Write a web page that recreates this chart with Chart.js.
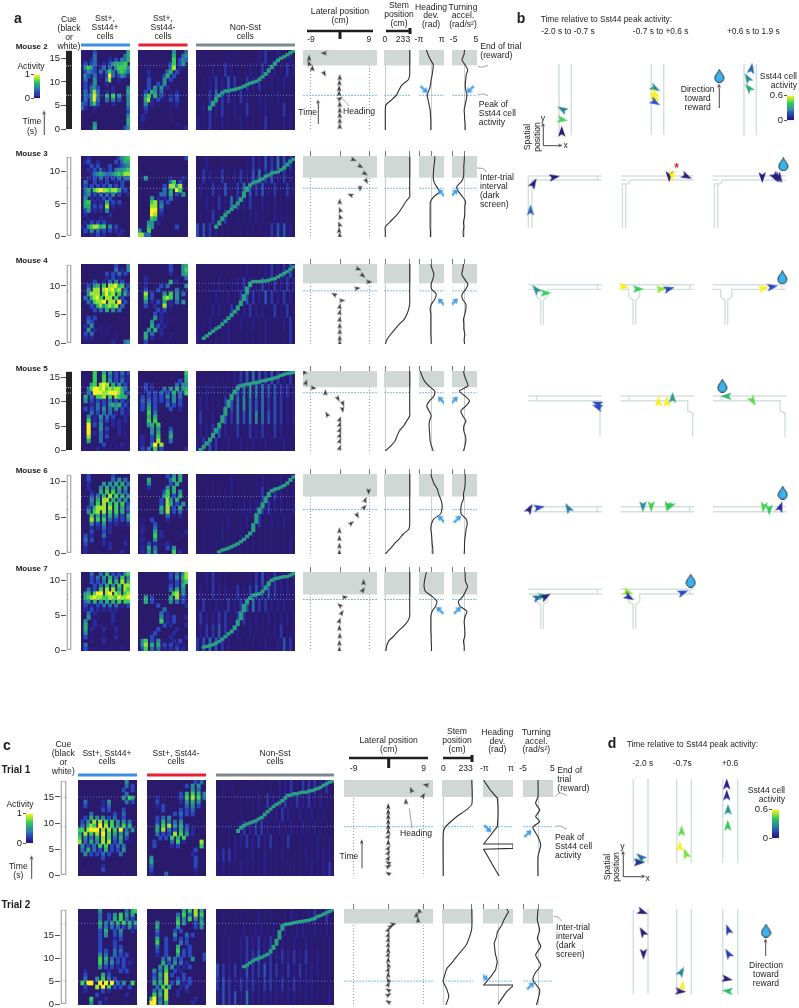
<!DOCTYPE html>
<html><head><meta charset="utf-8">
<script src="https://cdn.jsdelivr.net/npm/chart.js@4"></script>
<style>
html,body{margin:0;padding:0;background:#fff}
#root{position:relative;width:799px;height:1008px;overflow:hidden;font-family:"Liberation Sans",Arial,sans-serif;color:#1c1c1c}
canvas{position:absolute;display:block}
.t{position:absolute;white-space:nowrap;line-height:1;z-index:5}
</style></head><body><div id="root"></div>
<script>
/* ---------- activity grids (digit = activity 0-9, top row = latest time) ---------- */
const m2Plus=["....3..........6","....4....1....46","...24....2.3.546",".3.34..2.356667.",".5763.24.4.57775",".3543.4.474.6764",".53.4.2.394.3542",".4..5.1.481.2.1.",".3.25...2...1...",".3.453....2....5",".4.484..2.2....6",".435952.6.7.5..5",".4.594..4.5.3..5","43.473....2....5","42..2..........4","....1..........3","...............5","...............6","....5..........6","....6.........35"];
const m2Minus=["...........5...4","...........6..45","...........7.354","..........37.35.","...1......48.2..","...2.....46.3...","...2....36.3....","...3....5.3.....","...3..3.5.1.....","...3.5.5.2......","..3.65.4..1.2...","..57.6.3..2.3...","..682.3.1.3.3...","..5.2.1...1.2...","..3.1.....1.1...","..2.......1.....",".2........1.....",".2........1.....",".1..........1...",".1............12"];
const m3Plus=["..2.........3567",".23..2.....3.466","...3.3...3..2345","..2.3.42.3.45567","...2456544567688","..2.3.4.3.3.4.44",".4..3.2.3..2.3..",".3.3.3.3.4.3.3..",".46.789887886.3.",".45.3.4.4.5.3..2",".5.2.2.3.3.1....",".67.2.2.6.3.3...",".66.3.3.8.2.1...",".35.2.2.5.1.....",".2.1.....2......","..1.1.2.1.......",".2.3.3.3.1......","2.578867.5.3....",".3.5.4.3.3.2.2..","...2.3.2.1..2..."];
const m3Minus=["...............3","................","................","................","................","..5.......2...2.","..........47.3..","........3.8858..","........4.6.97..",".......44.6.3.5.","....5.2.2.4.1...","....78.4.3......","....88.5.1......","....99.3........","....98.2........","....76.1........","...55.2.........","...65.......3...","5..7............","8844............"];
const m4Plus=["...........3...5","...........4.2.5","........3.3.4.3.","........2.3.2.1.","....3..2.4.5.3..","..3.56.7.88967.3","..5.88.898978.4.","..5888.7978.7.63",".4.6897.88.7.3..","..4.7889.88.9.3.","...3.6857878.4..","....3.4.6.5.4...","................","..3.3...........","..43............",".2.5..1..1......","..5.2.1.1.......",".3.4..1.1..1....",".2.2.......1....","..1.......2...45"];
const m4Minus=["..........3...56","..........3...57","..........2...56","..2.........1..4","..2.......6.2...","..2....3.4.....5","..3...3.....4...","..8.3...5.7.5.4.","..7.3...787.5...","..5.2.3.6.2.4.5.","..3..2..8.2.....","......3.3.1.....",".....3.2........",".....5.2.1......","....5..2.1......","....6.3.2.......","...5.6.2........","..6.4..2..1.....","..6.2..1..1.....","..3......1......"];
const m5Plus=["....7..6.5.3.4.3","....7..7.4.3.3.2","....7..7.5.3.4.2","...67.898.6.5.3.","..4799897878864.","..4.9998899986.3",".6.4.778.7.8766.",".5.3.3.3.4.3.3.2","...2.4.3.5656.3.",".3.3.4.5.4.5.3.2","...4.3.4.4.2.3.2","..5.2.5.4.3...2.","..7.2.4.3.2.2.2.","..9.3.5.1.2.2.1.","..9...5.3...2.1.","..9.2.4.2...2.1.","..8...4.3.1.1.1.","..6.1.4.1.1...1.","...1.1.3.1.1.2.1",".1.1.2.1.1.1.1.1"];
const m5Minus=["...............7","...............6",".............3.6","..3.2.......4.55","..3.2...4.5.6.56","...3.3.4.3.6.4.7",".3.3.3.3.5.5.4..",".4.4.3.3.3.5.3..",".3.5.3.1.4.3.3..",".3.6.3....3..2..","...7.4..........","...6.6..........","...7.7..........","...56.7.........","....5.5...3.....","....5.6...5.....",".2..3.7...6.....",".2..3.8...4.....",".2..49.8........",".3.4.7.3.......2"];
const m6Plus=["..3.......3.....","..3.......4.5.4.","..2....5.5.6.6.4","..2...5.6.5.6.5.","...2..6.7.7.5.4.","...3.4.6.8.7.6.5","...5.6.88.6.5.5.","...4.7.8.7.7.7.3","..3.6888.8.7.6.4","..5.78.8.7.7.6.3","...7.6.5.6.5.3.6","...8.7.7.4.3.3.5","...5.3.5.2.2.1.2","...2.2.4.2......","...3...3.2......",".3.2...4.1....1.",".4.3...2......1.",".3.....2.2....2.",".2.......2....1.",".2...1.......2.."];
const m6Minus=[".........3.5.6..","...6......46.6..","...5......3.6...","...2.....5.6....","........37.6.5..","........57.3.6..",".......3.85.6...",".......3.86.3.5.",".......6.8.3.6..",".......5.8.3.4..",".........4.1.2..",".1..3....2......",".1...3..........",".2...4..........",".2...6.2.......2",".1...7.2......1.",".2...5..........",".1.3.2.1.2......",".2.6.4...3.5....",".2.5.5.....7.2.."];
const m7Plus=["...4..4.6.3.3.57","...3.4.5.6.4.7.5","...3.3.4.7.6.8.6","....3.4.6.5.7.88","..4.3.7.8.8.6.87",".56.799.89.87.78",".678988778879889",".45.6.5.6.6.7.77",".3.2.3.4.4.4.2.3",".2.3.2.2.2.2....","..4.2.....2.....","..5.......2.....",".5..2.....2.....",".6..2.1...1.....",".6.2...2...2....",".5.1...1...1....",".3.1...1...2....","...1...2........",".4.....1.1...1..",".3.1.1.1.1.1.1.."];
const m7Minus=["..........3.4.58","..........3.5.68","..........2.3.57","..........3.3.6.","..........4.6.5.","...........78.5.","..6.3.....6.8.3.","..6.3.....5.4.3.","......3........2","........4.......",".......4.2......",".......5.2.3...2",".......7.2.3....","........3.2....2","......3.....2...",".....3.....2....","....3.....2....2",".57.3.5....2.3..",".58.6.6.3.3.2.1.",".37.4.4.2.2.3.2."];
const t1Plus=["................5...","................4.3.","...............3..3.","................4...","...............5.76.","..4.....2.5.....4.3.","..3.....2.4.........","........3.3....3....","....4.......3..4....","..3.6.5.5.3.4..3....",".3.5.8.8.7.7.5.5.4..",".4.687.9.8.7.5.7.6..","77.8999.8.8.7.9.4.5.","6.8.7.8.9.7.6.5.5...","7.5.4.6.8.7.4.6.3...","8.4.6.5.8.8.3.5..1..",".5.3.4.7.7.3.4.4....",".4.6.4.3.6.3.3.5....","..5.3.3.4.3...4.....","........3...........","....................","........2...........","..1.....3...........","........1......1...."];
const t1Minus=["................3.4.",".............3.5.5..","...............5.4..","...........3.6.7.6.5","...2.......3.7.8.7.4","...3.......2.5.6.5..","...2.3.......4.5.3..","...1.3.....3.3.4....",".........3.4.3.3....","...3.4.5...3........","...3.6.4.4.5........","...5.7.8.5.6.3......","...6.8.4.3.6.4.2....","...4.3.3.8.7.5.2....","....3.3.7.6.7.......","..3.....4.7.2.....8.","..3.....2.3.......7.","................3...","...............2....",".5..............3...",".6..............3...",".4..............3...",".3..............2...",".2....4.........1..."];
const t2Plus=[".......5........4.67",".......4..3.5.7.5.6.",".......4..3.6.7.4.3.",".......6.4.5.6.7.6.6",".......5.4.4.4.3.5.3",".......3.6..3.5...2.",".......3.5..3.4.....",".......3....2.3.....",".......3....3.......",".......3....3.3.....",".......3.3..4.4.....",".......5.4..4.3.3...",".......7.6.4.3.3..1.",".......7.5.5.3.3.2..",".......5.3.3.2.3....","..2.......2...3.3...","..3.....6.3.........","..4...5.7.4.3.......",".7.99..9.9.9.4.5..7.","..3...8.9.7.3.3..3..","..2.....3.2.........","......3.........2...","....7....2..........","....5..3.1......1..."];
const t2Minus=["............6.7.8.6.","..........4.7.4.8.7.","..........6.5.7.5.5.","...5......7.5...3.6.","...6......5.....3.5.","...4.....3.3........","...3.....5...4.3....","...6..3..3.3.3......","...7..3....4.3......","...4..3...6...3.....","...3..3...7.3.3.....","...2..3...5.3.3....3",".....4.5.4.3...5...3",".....6.3.5.4.2......","....5.6.5.2.2.3.....","..5.4.7..3.2........","..3.6.8.3.1.3.......","..4.5.8...3.3.3.....","..6.6.8.3.5.2.3.....","...4.7.6...2.3......","..4.5.8...2..2......","..7.6.8...2.........",".69.4.8.........2...",".99.5.6........2...."];
const m2Streaks=["..........1.1.......2.3.1.2...2.",".....2.1.3.2.1...2.1.3.2.2.1.3.2","..1.2.3.2.4.3.1.3.2.3.1.2.1.2.1.","....3.5.3.3.2.3.2.1.2.1.1.2.1.1.","1.2.3.2.3.1.2.1.3.1.1.2.1.1.3.1.","2.1.3.1.2.1.1.2.1.1.1.3.1.1.2.2."];
const m3Streaks=["...2....1.......1.3.2.4.3.5.4.3.","..3.2.1.3.1.2.3.2.4.5.3.4.2.3.2.",".2.1.3.2.4.1.3.5.4.3.4.2.3.1.3.1","...2.1.3.1.5.3.2.3.1.2.1.2.1.1..",".1.1.3.1.3.1.1.1.1.2.1.1.2.1.1..","4.4.3.2.1.1.1.1.1.1.1.1.3.4.4.2."];
const m4Streaks=["..............1.2.1.1.2.3.2.3.4.",".....1.2.1.1.2.3.2.1.3.2.3.2.3.2","....1.2.1.2.1.3.4.3.2.4.3.2.3.2.",".1.1.2.2.1.3.2.2.3.2.2.1.3.1.3.1","1.1.2.1.1.2.1.2.1.2.1.2.1.1.2.3.","2.1.1.1.1.2.1.1.1.1.1.2.1.1.1.3."];
const m5Streaks=["......1.1.1.2.3.4.5.4.3.4.3.2.3.",".1.2.2.1.2.1.4.5.6.5.5.4.4.3.3.2",".2.2.1.1.3.4.5.6.5.4.5.3.4.3.2.2",".3.1.2.1.4.3.5.4.5.6.5.4.4.3.2.2",".2.2.3.4.2.1.3.1.3.2.3.1.3.2.1.1","2.3.4.3.1.2.1.2.1.2.1.2.1.1.2.1."];
const m6Streaks=[".....1.....2.1.....1.2.1.1.2.1.2","...1.1.1.1.2.1.1.1.1.3.2.3.2.1.1","...1.1.1.1.1.1.2.2.2.3.3.2.2.1.2","....1.1.1.2.1.1.2.1.3.1.2.1.2.1.","..1.1.1.2.1.1.1.1.1.1.1.1.1.1.1.","..1.1.1.1.1.1.1.1.1.1.1.1.1.1.2."];
const m7Streaks=["...2.3.1.1.......1.3.4.2.3.2.2.2",".2.1.3.2.2.1.3.2.3.4.3.4.3.2.2.1","..3.1.2.1.3.2.3.4.5.3.3.2.2.2.1.",".3.2.2.3.3.1.3.3.1.2.1.2.1.2.2.1",".2.3.3.4.3.1.2.1.2.1.1.1.2.3.1.1","3.4.5.4.3.2.1.1.1.1.1.2.1.2.4.3."];
const t1Streaks=["..1..1.....1...1..1..2.2.3.1.3.3.3.2.3.","......1.1.1.1.2..3.2.2.3.2.3.2.3.2.2.1.","........1...1.1.2.1.2.3.2.1.2.1.2.1.1..","..1.1..1.3.2.3.3.2.1.2.1.2.1.2.1.2.1.1.","....1.2.2.3.2.3.2.3.1.1.3.1.1.1.1.2.1.1","2.3.3.2.1.1.2.1.2.1.1.2.1.1.1.2.1.2.2.2","1.2.1.1.2.1.1.1.2.1.1.1.1.1.1.1.2.1.2.3"];
const t2Streaks=["..1.1.1.1.1...2.1.1....1.2.1.1.2.3.1.3.","...1.1.1.2.1.2.2.1.2.1.2.1.2.2.1.2.1.2.","..1.2.1.2.3.2.3.2.3.1.2.1.2.1.2.1.1.1.1","..1.2.1.2.3.3.4.2.3.2.3.2.3.2.3.1.2.1.1","4.3.2.3.2.4.3.3.4.3.3.2.3.2.3.2.2.2.1.1","3.4.3.2.3.3.3.2.3.3.2.3.2.3.2.2.2.1.1.1","2.4.3.4.2.5.2.2.2.2.2.1.2.2.1.2.1.1.1.2"];
/* peak time of each sorted non-Sst cell (s) */
const _=null;
const m2Ridge=[_,_,_,_,4.4,5.5,6.5,7.2,7.7,8.1,8.1,8.3,8.4,8.6,8.8,9.1,9.4,9.7,9.9,10.1,10.5,11,11.6,12.3,13.1,13.8,14.5,14.9,15.2,15.6,16,16.4];
const m3Ridge=[_,_,_,_,_,_,1.5,2.1,2.8,3.4,3.8,4.2,4.6,5.1,5.6,6.4,7.4,7.9,8.2,8.4,8.6,8.8,9.2,9.4,9.7,9.8,9.9,10.2,10.5,11,11.5,11.8];
const m4Ridge=[_,_,1,1.4,1.8,2.2,2.6,2.9,3.4,3.9,4.4,5,5.5,6.1,7,7.8,9.2,10.4,10.7,10.7,10.7,10.8,10.8,10.9,11.1,11.2,11.5,11.8,12.1,12.4,12.8,13.2];
const m5Ridge=[_,.3,.8,1.5,2.3,3,4.2,5,6.4,8,9.7,11,12,12.8,13.2,13.4,13.5,13.6,13.8,13.9,14,14.2,14.3,14.5,14.6,14.8,15,15.3,15.5,15.7,15.8,15.9];
const m6Ridge=[_,_,_,_,_,_,_,.3,.55,.65,.8,1,1.2,1.4,1.7,2,2.4,2.8,3.3,5.1,6,6.7,7.4,8.3,8.7,8.9,9,9.2,9.4,9.7,10.2,10.6];
const m7Ridge=[_,_,.55,.65,.75,.9,1.1,1.35,1.65,2,2.4,2.7,3.2,3.9,4.8,6.2,6.9,7.4,7.8,7.9,8,8.3,8.75,9.5,9.9,10.1,10.2,10.3,10.4,10.4,10.6,10.8];
const t1Ridge=[_,_,_,_,_,_,_,8.4,9.2,9.5,9.8,10,10.2,10.4,10.75,11,11.6,12.1,12.6,13.1,13.5,13.8,14.2,14.7,15.2,15.3,15.5,15.5,15.7,15.8,15.8,16,16.1,16.3,16.5,16.7,17.1,17.4,17.7,17.9];
const t2Ridge=[_,_,_,_,_,_,_,_,_,8.2,8.5,9,9.4,9.75,10,10.2,10.5,10.8,11.4,12.3,13.2,14.9,16.9,17.2,17.3,17.4,17.6,17.7,17.8,17.9,18,18.1,18.3,18.5,18.9,19.1,19.4,19.7,20,20.3];
/* time ticks */
const ticks0_15=[0,5,10,15], ticks0_10=[0,5,10];
/* behaviour sample times (s) */
const m2Time=[0,1.04,2.08,3.13,4.17,5.21,6.25,7.29,8.33,9.38,10.42,11.46,12.5,13.54,14.58,15.63,16.6];
const m3Time=[0,.77,1.53,2.3,3.06,3.83,4.59,5.36,6.12,6.89,7.65,8.42,9.18,9.95,10.71,11.48,12.24];
const m4Time=[0,.85,1.71,2.56,3.42,4.27,5.13,5.98,6.84,7.69,8.55,9.4,10.26,11.11,11.97,12.82,13.68];
const m5Time=[0,1.01,2.03,3.04,4.05,5.07,6.08,7.09,8.11,9.12,10.14,11.15,12.16,13.18,14.19,15.2,16.2];
const m6Time=[0,.69,1.38,2.06,2.75,3.44,4.13,4.82,5.5,6.19,6.88,7.57,8.26,8.94,9.63,10.32,11];
const m7Time=[0,.69,1.39,2.08,2.78,3.47,4.17,4.86,5.56,6.25,6.94,7.64,8.33,9.03,9.72,10.42,11.05];
/* stem position (cm) */
const m2Stem=[0,0,0,0,0,6,60,108,131,160,220,233,233,233,233,233,233];
const m3Stem=[0,0,0,45,93,134,166,195,233,233,233,233,233,233,233,233,233];
const m4Stem=[0,19,54,93,134,182,207,223,233,233,233,233,233,233,233,233,233];
const m5Stem=[0,51,93,112,134,175,204,233,233,233,233,233,233,233,233,233,233];
const m6Stem=[0,45,86,131,172,226,233,233,233,233,233,233,233,233,233,233,233];
const m7Stem=[6,13,32,80,124,175,214,233,233,233,233,233,233,233,233,233,233];
/* heading deviation (rad) */
const m2Head=[-.17,-.17,-.17,-.26,-.34,-.6,-.85,-1.1,-.6,-.26,-.09,.17,.34,.43,-.26,-.85,-1.28];
const m3Head=[-.26,-.26,-.34,-.34,-.34,-.34,-.34,-.26,.6,2.04,1.28,.6,.43,.51,.6,.77,.85];
const m4Head=[-.09,-.09,-.17,-.17,-.17,-.17,-.17,-.34,0,.85,1.19,0,-.09,.34,.6,.17,-.17];
const m5Head=[.43,0,-.34,-.43,-.51,-.6,-.51,-.09,-.6,-1.19,-.51,.6,.77,-.68,-1.79,-2.38,-2.8];
const m6Head=[.34,.34,.17,.09,0,-.17,0,.6,2.3,2.64,2.64,2.3,1.79,1.45,.68,.17,-.17];
const m7Head=[0,0,-.09,-.09,-.17,-.17,-.17,-.17,.17,1.02,1.36,.17,-1.53,-1.87,-1.79,-1.53,-1.28];
/* turning acceleration (rad/s2) */
const m2Turn=[.27,.27,.1,0,-.13,.27,.7,.95,.5,.27,.5,.7,1.3,.2,-1,-.2,0];
const m3Turn=[-.4,-.54,-.27,-.4,0,.13,.13,.4,-.8,-2.4,-3.1,-1.2,-.4,-.27,-.27,-.13,0];
const m4Turn=[0,-.13,.13,-.27,-.27,-.4,.13,.54,.54,-.8,-.95,.54,1.35,0,-1.08,-.67,-.4];
const m5Turn=[-.4,.13,.54,.4,-.27,-.27,.54,-.67,-1.48,.54,2,.13,-2,1.35,.8,0,-.4];
const m6Turn=[-.13,0,0,.13,.4,.67,1.08,.67,-1.35,-1.48,-1.2,-.4,-.4,0,.27,.27,.27];
const m7Turn=[-.13,-.13,-.4,.13,.13,0,-.13,.27,.95,-1.75,-2.43,-.67,.4,1.2,.4,.27,.27];
/* trials: [time, value] */
const t1HeadPts=[[0,.21],[5.03,-3],[5.2,3.14],[6.04,3.14],[6.04,-3],[7.4,-1.8],[8.7,-.7],[9.3,-.14],[11.2,0],[13.1,0],[14.7,-.14],[16.2,-1.6],[17.5,-2.6],[18.1,-3]];
const t1TurnPts=[[0,0],[3.65,0],[5.85,.9],[7.4,0],[9.2,-1.7],[10.25,.56],[11.2,-.78],[12.45,.56],[13.7,-.78],[15,0],[18.1,0]];
const t1StemPts=[[0,0],[8,0],[9.2,16],[10.9,94],[13.5,233],[18.1,233]];
const t2HeadPts=[[.2,0],[2.85,1.79],[4.1,3.14],[4.27,3.14],[4.27,-3],[6.05,-1.5],[7.5,-.5],[9.25,-.14],[11,-.57],[13.2,-.8],[14.6,-.3],[15.6,-.14],[17.1,.8],[18.1,1.2],[19.9,2.2],[20.5,1.8]];
const t2TurnPts=[[0,-.5],[3.2,.56],[5.34,-1.68],[6.76,-1],[8.5,.9],[10.7,-.78],[12.45,.9],[14.2,-.22],[16,.56],[18.1,-.22],[20.5,0]];
const t2StemPts=[[0,21],[1.8,45],[3.5,27],[5,0],[6,8],[7.8,30],[8.9,67],[11,130],[12.8,187],[14.6,215],[16.4,233],[20.5,233]];
/* mouse trajectory: [lateral cm, time s, heading deg] */
const m2Path=[[0,.76,0],[0,1.9,0],[0,3.05,0],[0,4.1,0],[0,5.3,0],[0,6.45,60],[-.2,7.6,0],[-.2,8.6,0],[-.1,9.8,0],[0,10.9,0],[-4.9,11.7,150],[-8.4,12.8,0],[-9.4,13.8,-20],[-9.4,14.9,0],[-4.9,16,-90]];
const m3Path=[[0,.25,0],[-.2,1,0],[-.1,1.9,-20],[.1,3.05,-20],[.1,4.1,-20],[0,5.35,0],[3.3,6.4,-70],[6.1,7.4,180],[8,8.5,150],[7.6,9.6,120],[6.2,10.7,120],[4.1,11.7,110]];
const m4Path=[[0,.2,0],[0,1,0],[0,2.1,0],[0,3.1,0],[0,4.2,10],[0,5.4,10],[0,6.4,10],[.6,7.4,90],[-1.7,8.5,-60],[5.3,9.5,80],[8.9,10.6,90],[6.9,11.7,130],[5.6,12.8,110]];
const m5Path=[[0,.6,20],[0,2,20],[0,3.1,20],[0,4.2,20],[0,5.3,20],[0,6.35,20],[-3.9,7.4,-30],[.7,8.4,170],[.8,9.6,160],[-.7,10.6,150],[-4.4,11.8,0],[-8.2,12.7,100],[-10.4,13.8,20],[-10.9,16,-20]];
const m6Path=[[-.1,.2,0],[-.1,1.1,0],[-.1,2.15,0],[-.1,3.2,0],[3.5,4.2,50],[5.2,5.3,150],[7.5,6.4,40],[7.8,7.4,20],[8.7,8.6,180]];
const m7Path=[[-.1,.2,0],[-.1,1.1,0],[0,2.1,0],[-.1,3.2,0],[-.1,4.2,20],[.6,5.3,30],[0,6.4,-50],[1.5,7.5,80],[7.1,8.5,30],[7.3,9.6,0]];
const t1Path=[[0,.5,-60],[0,1.76,60],[0,2.5,-60],[0,3.3,30],[0,4.3,30],[0,5.2,30],[0,6.3,0],[0,7.4,30],[0,8.4,0],[0,9.3,0],[0,10.25,0],[0,11.2,0],[0,12.1,0],[0,13.1,0],[4.5,14,0],[5.9,16.2,-20],[8.9,15.1,30],[9.6,17.2,-80]];
const t2Path=[[0,.7,-60],[0,2.1,60],[0,3.2,-60],[0,4.3,30],[0,5.3,-30],[0,6.4,0],[0,7.5,20],[0,8.5,-20],[0,9.6,0],[0,10.7,20],[0,11.7,0],[0,12.8,10],[0,13.9,10],[0,14.9,20],[0,16,30],[.6,16.7,60],[1.2,17.2,80],[7.6,18.1,0],[7.2,19.2,10],[7.9,20.1,-20]];
/* blue callouts: [value, time, deg] */
const m2Call=[[-1.87,8.4,135],[2.3,8.4,225]], m3Call=[[2.47,6.7,-45],[-4.05,6.7,45]], m4Call=[[2.47,7.2,-45],[-4.05,7.2,45]], m5Call=[[2.47,10.3,-45],[-4.05,10.3,45]], m6Call=[[2.47,4.8,-45],[-2.8,4.8,45]], m7Call=[[2.1,5.7,-45],[-2.8,5.7,45]], t1Call=[[-2.14,8.9,135],[-3.36,8,45]], t2Call=[[-2.86,6,135],[-2.46,4.1,45]];
/* panels b and d: [x, y, deg, activity] */
const bArrows=[[562.3,109,-60,.45],[562.7,120,100,.75],[562,131.3,0,.03],[655.3,88.7,120,.5],[655.3,94.5,120,1],[655.3,98.5,120,1],[655.3,102.7,120,.3],[751.7,68.3,10,.35],[747.7,77.7,-30,.5],[748.7,87.7,-40,.6],
[534,183.3,30,.05],[554.7,177.3,80,.05],[530.7,210,0,.35],[669,176.7,180,.05],[671.8,176,180,1],[686.7,176.7,115,.05],[762,177.7,180,.08],[775,177.7,150,.05],[776.7,178,150,.08],[779.3,178.3,150,.05],
[536,289,-40,.5],[546,293.3,90,.72],[624,287,100,1],[638.3,289.3,90,.72],[661.7,289.3,85,.85],[669.3,289,75,.25],[764,288.3,75,1],[772.7,287,80,.25],
[597.3,403.3,-70,.25],[597.3,406.5,-70,.25],[658.7,401.3,0,1],[667,401.3,0,1],[672.7,397.3,0,.55],[726,396,-90,.65],[752.7,401.3,150,.78],
[530,508.7,30,.08],[539.3,507.7,80,.25],[568.3,507.7,-30,.42],[642.7,506.7,180,.48],[651,506.7,180,.75],[667.3,506.7,190,.75],[671,505.7,70,.7],[763.3,507.3,190,.75],[769,510,180,.72],[780.7,506.7,20,.15],
[538.3,597.7,70,.35],[543.3,596,80,.6],[546,596.7,60,.08],[628.3,592.7,110,.85],[629.3,597.7,120,.18],[683.3,592.7,70,.25]];
const dArrows=[[640.7,856.7,-50,.35],[640,861.7,90,.7],[639.3,862.7,90,.15],[681.7,830.7,0,.78],[680,846,0,1],[686,853.3,-20,.82],[727,784,0,.12],[727,795,0,.15],[728.3,809.3,0,.5],[728,825.3,0,.72],
[642.7,912.3,110,.03],[642.7,931.7,-30,.03],[643.3,954.3,180,.05],[681.7,971.7,30,.45],[682.7,985.7,10,1],[680.7,991.7,95,.1],[728.3,929.3,-20,.22],[728.3,953.3,-30,.22],[727.3,979.3,100,.03],[727.3,990.7,-85,.65]];
const dropletPos=[[719.3,76],[783.3,164.3],[782.3,277.3],[722.3,385.7],[782.7,492.7],[690.7,580.7],[766,930.7]];
const activityScale=[.02,.06,.1,.14,.18,.22,.26,.3,.34,.38,.42,.46,.5,.54,.58,.62,.66,.7,.74,.78,.82,.86,.9,.94,.98];

/* ---------- helpers ---------- */
/* marks are sized by the figure, so point size must not shrink the plot area */
['line','scatter'].forEach(k=>{Chart.registry.getController(k).prototype.getMaxOverflow=function(){return 0;};});
const root=document.getElementById('root');
const stops=[[0,[41,26,108]],[.12,[42,32,140]],[.25,[40,70,190]],[.42,[42,125,165]],[.58,[40,165,125]],[.72,[50,205,90]],[.86,[150,230,50]],[1,[248,240,30]]];
function cmap(v){v=Math.max(0,Math.min(1,v));for(let i=1;i<stops.length;i++){if(v<=stops[i][0]){const a=stops[i-1],b=stops[i],f=(v-a[0])/(b[0]-a[0]);return 'rgb('+a[1].map((c,k)=>Math.round(c+(b[1][k]-c)*f)).join(',')+')';}}return 'rgb(248,240,30)';}
function T(x,y,s,o={}){const d=document.createElement('div');d.className='t';d.textContent=s;const a=o.a||'c';const tx=a==='c'?'-50%':a==='r'?'-100%':'0';d.style.cssText+=`left:${x}px;top:${y}px;font-size:${o.s||8.6}px;font-weight:${o.b?'bold':'normal'};transform:translate(${tx},-50%)${o.r?' rotate(-90deg)':''};color:${o.c||'#1c1c1c'}`;root.appendChild(d);}
function mk(left,top,w,h,cfg,css){const c=document.createElement('canvas');c.width=w;c.height=h;c.style.cssText=`left:${left}px;top:${top}px;width:${w}px;height:${h}px;`+(css||'');root.appendChild(c);
 cfg.options=Object.assign({responsive:false,maintainAspectRatio:false,animation:false,events:[],devicePixelRatio:1,layout:{padding:0}},cfg.options);
 cfg.options.plugins={legend:{display:false},tooltip:{enabled:false}};new Chart(c,cfg);}
const hide=(min,max,extra)=>Object.assign({type:'linear',min,max,display:false,offset:false},extra||{});
function cellsOf(rows,tmax,cells,cols,gain){const n=rows.length;rows.forEach((r,i)=>{[...r].forEach((ch,j)=>{if(ch==='.')return;cells.push({x:j,y:[tmax*(1-(i+1)/n),tmax*(1-i/n)]});cols.push(cmap(Math.pow(+ch/9,1.25)*gain));});});}
function hline(y,n,color){return {type:'line',data:[{x:-.5,y},{x:n-.5,y}],borderColor:color,borderWidth:1,borderDash:[1,2],pointRadius:0,order:-1};}
function heat(x,y,w,h,rows,n,R,ridge){const cells=[],cols=[];cellsOf(rows,R.T,cells,cols,ridge?.78:1);
 const ds=[{data:cells,backgroundColor:cols,borderWidth:0,barThickness:ridge?w/n*.66:w/n+.4,grouped:false,order:2},hline(R.band,n,'rgba(255,255,255,.35)'),hline(R.peak,n,'rgba(150,205,255,.5)')];
 if(ridge){const d=1.3*R.T/h,rc=[],rk=[];ridge.forEach((t,i)=>{if(t===null)return;const a=ridge[i-1],b=ridge[i+1];const lo=(a===null||a===undefined)?t-d:Math.min(t-d,(a+t)/2);const hi=(b===null||b===undefined)?t+d:Math.max(t+d,(b+t)/2);rc.push({x:i,y:[lo,hi]});rk.push(cmap(.56));});ds.push({data:rc,backgroundColor:rk,borderWidth:0,barThickness:w/n+.4,grouped:false,order:1});}
 mk(x,y,w,h,{type:'bar',data:{datasets:ds},options:{scales:{x:hide(-.5,n-.5),y:hide(0,R.T)}}},'background:#291a6c;filter:blur(.75px);clip-path:inset(0);');}
function cue(x,y,w,h,R){const ax=22,pad=6;const dark=R.cue==='black';
 mk(x-ax,y-pad,w+ax,h+2*pad,{type:'bar',data:{datasets:[{data:[{x:0,y:[0,R.T]}],backgroundColor:dark?'#232323':'#fff',borderColor:dark?'#232323':'#a9a9a9',borderWidth:dark?0:1.5,borderSkipped:false,barThickness:dark?w:w-1.5,grouped:false},{type:'line',data:[{x:-.5,y:R.band},{x:.5,y:R.band}],borderColor:'#cccccc',borderWidth:1,borderDash:[1,1],pointRadius:0,order:-1},{type:'line',data:[{x:-.5,y:R.peak},{x:.5,y:R.peak}],borderColor:'#a8cfe8',borderWidth:1,borderDash:[1,1],pointRadius:0,order:-1}]},
 options:{layout:{padding:{top:pad,bottom:pad}},scales:{x:hide(-.5,.5),y:{type:'linear',min:0,max:R.T,position:'left',afterFit:s=>{s.width=ax},afterBuildTicks:s=>{s.ticks=R.ticks.map(v=>({value:v}))},ticks:{font:{family:'Liberation Sans',size:9.5},color:'#222',padding:1,autoSkip:false,callback:v=>String(v)},grid:{drawOnChartArea:false,tickLength:5,tickColor:'#555',drawTicks:true},border:{display:false}}}}});}
const arrowCache={};
function arrowImg(color,L,W){const k=color+L+W;if(arrowCache[k])return arrowCache[k];const c=document.createElement('canvas');c.width=Math.ceil(W)+2;c.height=Math.ceil(L)+2;const g=c.getContext('2d');g.fillStyle=color;g.beginPath();g.moveTo(1+W/2,1);g.lineTo(1+W,1+L);g.lineTo(1+W/2,1+L*.78);g.lineTo(1,1+L);g.closePath();g.fill();return arrowCache[k]=c;}
function blueArrow(){if(arrowCache.blue)return arrowCache.blue;const c=document.createElement('canvas');c.width=7;c.height=10;const g=c.getContext('2d');g.fillStyle='#3d9de8';g.beginPath();g.moveTo(3.5,0);g.lineTo(7,5);g.lineTo(4.6,4.6);g.lineTo(4.6,10);g.lineTo(2.4,10);g.lineTo(2.4,4.6);g.lineTo(0,5);g.closePath();g.fill();return arrowCache.blue=c;}
function dropImg(){if(arrowCache.drop)return arrowCache.drop;const c=document.createElement('canvas');c.width=11;c.height=14;const g=c.getContext('2d');g.beginPath();g.moveTo(5.5,.5);g.bezierCurveTo(6.5,3.5,10,6,10,9);g.arc(5.5,9,4.5,0,Math.PI);g.bezierCurveTo(1,6,4.5,3.5,5.5,.5);g.closePath();g.fillStyle='#3ab3ea';g.fill();g.strokeStyle='#1d2a35';g.lineWidth=1;g.stroke();return arrowCache.drop=c;}
/* one behaviour strip: a band for the inter-trial interval, peak line, curve/arrow marks */
function strip(x,y,w,h,xmin,xmax,R,tickVals,gridFn,dash,marks,topTick){
 const tl=topTick?5:0;
 const ds=marks.slice();
 ds.push({type:'line',data:[{x:xmin,y:R.peak},{x:xmax,y:R.peak}],borderColor:'#7fb9e6',borderWidth:1,borderDash:[2,1],pointRadius:0,order:5});
 ds.push({type:'line',data:[{x:xmin,y:R.band},{x:xmax,y:R.band}],borderWidth:0,pointRadius:0,fill:{target:{value:R.T},above:'#cfd8d5',below:'#cfd8d5'},backgroundColor:'#cfd8d5',order:6});
 mk(x,y-tl,w,h+tl,{type:'scatter',data:{datasets:ds},options:{scales:{
  x:{type:'linear',min:xmin,max:xmax,position:'top',offset:false,afterFit:s=>{s.height=tl},afterBuildTicks:s=>{s.ticks=tickVals.map(v=>({value:v}))},ticks:{display:false},
     grid:{drawTicks:topTick,tickLength:tl,tickColor:'#777',color:gridFn,lineWidth:1},border:{display:topTick,color:'#888',dash:dash}},
  y:hide(0,R.T)}}});}
const curve=d=>({type:'line',data:d,borderColor:'#2f2f2f',borderWidth:1.1,pointRadius:0,tension:.25,order:1,clip:false});
const curveSharp=d=>({type:'line',data:d,borderColor:'#2f2f2f',borderWidth:1.1,pointRadius:0,tension:0,order:1,clip:false});
const curveOf=(ts,vs)=>curve(ts.map((t,i)=>({x:vs[i],y:t})));
const ptsOf=(p,sharp)=>(sharp?curveSharp:curve)(p.map(q=>({x:q[1],y:q[0]})));
function pathDs(path,L,W){return {type:'scatter',data:path.map(p=>({x:p[0],y:p[1]})),pointStyle:arrowImg('#3a3a3a',L,W),pointRotation:path.map(p=>p[2]),pointRadius:3,order:0};}
function callDs(c){return {type:'scatter',data:[{x:c[0],y:c[1]}],pointStyle:blueArrow(),pointRotation:c[2],pointRadius:3,order:0};}
function colorbar(x,y,w,h,maxV,tickVals,ax){const pad=6,n=activityScale.length;const cells=activityScale.map((v,i)=>({x:0,y:[maxV*i/n,maxV*(i+1)/n]}));
 mk(x-ax,y-pad,w+ax,h+2*pad,{type:'bar',data:{datasets:[{data:cells,backgroundColor:activityScale.map(cmap),borderWidth:0,barThickness:w,grouped:false}]},
 options:{layout:{padding:{top:pad,bottom:pad}},scales:{x:hide(-.5,.5),y:{type:'linear',min:0,max:maxV,position:'left',afterFit:s=>{s.width=ax},afterBuildTicks:s=>{s.ticks=tickVals.map(v=>({value:v}))},ticks:{font:{family:'Liberation Sans',size:9.5},color:'#222',padding:1,callback:v=>String(v)},grid:{drawOnChartArea:false,tickLength:3,tickColor:'#555'},border:{display:false}}}}});}

/* ---------- rows ---------- */
const rowsA=[
{top:50,bot:130,T:16.6,band:13.4,peak:7.2,cue:'black',ticks:ticks0_15,plus:m2Plus,minus:m2Minus,st:m2Streaks,ri:m2Ridge,time:m2Time,stem:m2Stem,head:m2Head,turn:m2Turn,path:m2Path,call:m2Call,first:true},
{top:156,bot:237,T:12.3,band:9,peak:7.4,cue:'white',ticks:ticks0_10,plus:m3Plus,minus:m3Minus,st:m3Streaks,ri:m3Ridge,time:m3Time,stem:m3Stem,head:m3Head,turn:m3Turn,path:m3Path,call:m3Call},
{top:264,bot:344,T:13.7,band:10.4,peak:9.1,cue:'white',ticks:ticks0_10,plus:m4Plus,minus:m4Minus,st:m4Streaks,ri:m4Ridge,time:m4Time,stem:m4Stem,head:m4Head,turn:m4Turn,path:m4Path,call:m4Call},
{top:371,bot:451,T:16.2,band:12.9,peak:11.8,cue:'black',ticks:ticks0_15,plus:m5Plus,minus:m5Minus,st:m5Streaks,ri:m5Ridge,time:m5Time,stem:m5Stem,head:m5Head,turn:m5Turn,path:m5Path,call:m5Call},
{top:474,bot:554,T:11,band:7.9,peak:6.1,cue:'white',ticks:ticks0_10,plus:m6Plus,minus:m6Minus,st:m6Streaks,ri:m6Ridge,time:m6Time,stem:m6Stem,head:m6Head,turn:m6Turn,path:m6Path,call:m6Call},
{top:572,bot:651,T:11.05,band:7.9,peak:7.2,cue:'white',ticks:ticks0_10,plus:m7Plus,minus:m7Minus,st:m7Streaks,ri:m7Ridge,time:m7Time,stem:m7Stem,head:m7Head,turn:m7Turn,path:m7Path,call:m7Call}];
const stemGrid=c=>c.tick&&c.tick.value===0?'#c9c9c9':'rgba(0,0,0,0)';
const latGrid=c=>c.tick&&c.tick.value===0?'rgba(0,0,0,0)':'#9a9a9a';
const midGrid=c=>c.tick&&c.tick.value===0?'#d0d0d0':'rgba(0,0,0,0)';
rowsA.forEach(R=>{const y=R.top,h=R.bot-R.top;
 cue(66,y,6,h,R);
 heat(81,y,49,h,R.plus,16,R);
 heat(138,y,50,h,R.minus,16,R);
 heat(196,y,99,h,R.st,32,R,R.ri);
 const top=!R.first;
 strip(303,y,74,h,-11.35,11.35,R,[-9,0,9],latGrid,[1,2],[pathDs(R.path,6.5,4.5)],top);
 strip(384,y,27,h,-12.4,245.4,R,[0,233],stemGrid,[],[curveOf(R.time,R.stem)],top);
 strip(419,y,25,h,-3.14,3.14,R,[-3.14,0,3.14],midGrid,[],[curveOf(R.time,R.head),callDs(R.call[0])],top);
 strip(452,y,25,h,-5,5,R,[-5,0,5],midGrid,[],[curveOf(R.time,R.turn),callDs(R.call[1])],top);
});
const rowsC=[
{top:780,bot:876,T:18.1,band:14.9,peak:9.3,cue:'white',ticks:ticks0_15,plus:t1Plus,minus:t1Minus,st:t1Streaks,ri:t1Ridge,stemP:t1StemPts,headP:t1HeadPts,turnP:t1TurnPts,path:t1Path,call:t1Call,first:true},
{top:909,bot:1005,T:20.5,band:17.4,peak:5.1,cue:'white',ticks:ticks0_15,plus:t2Plus,minus:t2Minus,st:t2Streaks,ri:t2Ridge,stemP:t2StemPts,headP:t2HeadPts,turnP:t2TurnPts,path:t2Path,call:t2Call}];
rowsC.forEach(R=>{const y=R.top,h=R.bot-R.top;
 cue(60,y,7,h,R);
 heat(78,y,59,h,R.plus,20,R);
 heat(147,y,59,h,R.minus,20,R);
 heat(216,y,118,h,R.st,40,R,R.ri);
 const top=!R.first;
 strip(344,y,89,h,-11.35,11.35,R,[-9,0,9],latGrid,[1,2],[pathDs(R.path,6.5,4.5)],top);
 strip(442,y,31,h,-10,243,R,[0,233],stemGrid,[],[ptsOf(R.stemP)],top);
 strip(483,y,30,h,-3.14,3.14,R,[-3.14,0,3.14],midGrid,[],[ptsOf(R.headP,true),callDs(R.call[0])],top);
 strip(523,y,30,h,-5,5,R,[-5,0,5],midGrid,[],[ptsOf(R.turnP),callDs(R.call[1])],top);
});
colorbar(34,74,6,25,1,[0,1],12);
colorbar(26,813,7,31,1,[0,1],12);
colorbar(787,95,7,26,.6,[0,.6],18);
colorbar(772,809,7,30,.6,[0,.6],18);

/* ---------- figure layer: header bars, pointers, mazes, arrows in panels b and d ---------- */
const blackBars=[[[307,31],[373,31]],[[340,31],[340,39]],[[386,31],[410,31]],[[410,28],[410,34]],[[349,758],[428,758]],[[388.7,758],[388.7,768]],[[443,758],[472,758]],[[472,755],[472,762]]];
const blueBars=[[[81,45],[130,45]],[[78,775],[137,775]]];
const redBars=[[[138.5,45],[187.5,45]],[[147,775],[206,775]]];
const greyBars=[[[196,45],[295,45]],[[216,775],[334,775]]];
const pointers=[[[488,65],[483,67],[478,66.5]],[[488,95.7],[483,94],[478,95]],[[477,168],[484,169],[486,172]],[[342.7,99],[349.3,106]],[[566.7,795.7],[560,793],[555,796.7]],[[566.7,829.3],[560,826],[555,826.7]],[[553.3,916.7],[558,917],[561.7,921.7]],[[409.3,808.3],[412,828.3]]];
const blackLines=[[[44.3,135],[44.3,115]],[[31.7,879],[31.7,860]],[[318.3,124],[318.3,104]],[[362,868.3],[362,844]],[[719.3,108],[719.3,88]],[[765.7,956],[765.7,943]],[[543.3,145.7],[558,145.7]],[[543.3,145.7],[543.3,127]],[[623.3,876.7],[641,876.7]],[[623.3,876.7],[623.3,855]]];
const heads=[[44.3,113,0],[31.7,858,0],[318.3,102,0],[362,842,0],[719.3,86,0],[765.7,941,0],[560,145.7,90],[543.3,125,0],[643,876.7,90],[623.3,853,0]];
const stemT=[[[0,0],[73.3,0]],[[69,0],[69,4.7]],[[0,4.7],[8,4.7],[8,12],[12.4,15.5],[12.4,40]],[[15,40],[15,15.5],[19,12],[19,4.7],[73.3,4.7]]];
const cornerA=[[[0,0],[73,0]],[[69,0],[69,4]],[[0,0],[0,52]],[[3.7,52],[3.7,4],[73,4]]];
const cornerB=[[[0,0],[73,0]],[[9,4],[73,4]],[[1.7,52],[1.7,8],[7,8],[9,6],[9,4]],[[5,52],[5,9]],[[0,4],[6,4]]];
const rightA=[[[0,0],[73.3,0]],[[8.3,0],[8.3,4.7]],[[0,4.7],[71.7,4.7],[71.7,40.7]]];
const rightB=[[[0,0],[73.3,0]],[[8.3,0],[8.3,4.7]],[[0,4.7],[67,4.7],[67,15],[72,17],[72,40.7]]];
const plainC=[[[0,0],[73.3,0]],[[0,5],[73.3,5]],[[69,0],[69,5]]];
const mazes=[[cornerA,528.3,176],[cornerB,620.7,176],[cornerB,712.7,176],[stemT,528.3,284.7],[stemT,620.7,284.7],[stemT,712.7,284.7],[rightA,528.3,396],[rightB,620.7,396],[rightB,713,396],[plainC,528.3,506.7],[plainC,620.7,506.7],[plainC,713,506.7],[stemT,528.3,589.3],[stemT,620.7,589.3]];
const straightTracks=[[559,64,135],[571.3,64,135],[651.3,64,135],[663.7,64,135],[744,64,135],[756.3,64,135],[633.3,779,863],[648,779,863],[676.7,779,863],[691.3,779,863],[722.7,779,863],[737.7,779,863],[633.3,909,994],[648,909,994],[676.7,909,994],[691.3,909,994],[722.7,909,994],[737.7,909,994]];
const poly=(pts,color,w,extra)=>Object.assign({type:'line',data:pts.map(p=>({x:p[0],y:p[1]})),borderColor:color,borderWidth:w,pointRadius:0,order:3},extra||{});
const fig=[];
blackBars.forEach(b=>fig.push(poly(b,'#1e1e1e',b[0][0]===b[1][0]?3:2.5)));
blueBars.forEach(b=>fig.push(poly(b,'#3a8fe3',3)));
redBars.forEach(b=>fig.push(poly(b,'#ea1f33',3)));
greyBars.forEach(b=>fig.push(poly(b,'#7d8a8c',3)));
pointers.forEach(b=>fig.push(poly(b,'#8a8a8a',.8,{tension:.4})));
blackLines.forEach(b=>fig.push(poly(b,'#333',.9)));
mazes.forEach(m=>m[0].forEach(l=>fig.push(poly(l.map(p=>[p[0]+m[1],p[1]+m[2]]),'#d3e0dc',1.4))));
straightTracks.forEach(s=>fig.push(poly([[s[0],s[1]],[s[0],s[2]]],'#d3e0dc',1.5)));
fig.push({type:'scatter',data:heads.map(h=>({x:h[0],y:h[1]})),pointStyle:arrowImg('#222',4.5,3.5),pointRotation:heads.map(h=>h[2]),pointRadius:3,order:1});
const arrows=bArrows.concat(dArrows);
fig.push({type:'scatter',data:arrows.map(a=>({x:a[0],y:a[1]})),pointStyle:arrows.map(a=>arrowImg(cmap(a[3]),11,7.5)),pointRotation:arrows.map(a=>a[2]),pointRadius:4,order:0});
fig.push({type:'scatter',data:dropletPos.map(a=>({x:a[0],y:a[1]})),pointStyle:dropImg(),pointRadius:4,order:0});
mk(0,0,799,1008,{type:'scatter',data:{datasets:fig},options:{scales:{x:hide(0,799),y:hide(0,1008,{reverse:true})}}},'z-index:3;');

/* ---------- text ---------- */
T(18,18,'a',{s:14,b:1});T(521,18,'b',{s:14,b:1});T(7,745,'c',{s:14,b:1});T(612,743,'d',{s:14,b:1});
[['Mouse 2',47],['Mouse 3',153.7],['Mouse 4',261],['Mouse 5',368.7],['Mouse 6',471],['Mouse 7',568.7]].forEach(m=>T(15.7,m[1],m[0],{a:'l',b:1,s:8}));
T(1.5,770,'Trial 1',{a:'l',b:1,s:10});T(1.5,905,'Trial 2',{a:'l',b:1,s:10});
[['Cue',19],['(black',28],['or',37],['white)',45.7]].forEach(l=>T(69,l[1],l[0]));
[['Sst+,',18],['Sst44+',27],['cells',36]].forEach(l=>T(105,l[1],l[0]));
[['Sst+,',18],['Sst44-',27],['cells',36]].forEach(l=>T(163,l[1],l[0]));
T(245.3,27,'Non-Sst');T(245.3,36,'cells');
T(340,10.7,'Lateral position');T(340,20,'(cm)');
T(399,5,'Stem');T(399,13.7,'position');T(399,22.7,'(cm)');
T(431,6.7,'Heading');T(431,15.3,'dev.');T(431,24,'(rad)');
T(463,6.7,'Turning');T(463,15.3,'accel.');T(463,24,'(rad/s²)');
[[311,'-9'],[369,'9'],[385,'0'],[403,'233'],[419,'-π'],[441.7,'π'],[453.7,'-5'],[476,'5']].forEach(l=>T(l[0],39,l[1]));
T(31,66,'Activity');T(32,121,'Time');T(32,130.7,'(s)');
T(480.3,45.7,'End of trial',{a:'l'});T(480.3,54.7,'(reward)',{a:'l'});
T(478.7,104,'Peak of',{a:'l'});T(478.7,112.7,'Sst44 cell',{a:'l'});T(478.7,121.7,'activity',{a:'l'});
T(480,176.7,'Inter-trial',{a:'l'});T(480,185.7,'interval',{a:'l'});T(480,195,'(dark',{a:'l'});T(480,203.7,'screen)',{a:'l'});
T(307.7,111.7,'Time');T(359,110.7,'Heading');
T(540.7,19,'Time relative to Sst44 peak activity:',{a:'l',s:8.4});
T(568,31.3,'-2.0 s to -0.7 s',{s:8.4});T(660.7,31.3,'-0.7 s to +0.6 s',{s:8.4});T(753.3,31.3,'+0.6 s to 1.9 s',{s:8.4});
T(697.7,89,'Direction');T(697.7,98,'toward');T(697.7,107,'reward');
T(797,76,'Sst44 cell',{a:'r'});T(797,85,'activity',{a:'r'});
T(543,118.3,'y');T(565.7,145.3,'x');T(526.7,136.7,'Spatial',{r:1});T(536.7,136.7,'position',{r:1});
T(676.7,168,'*',{c:'#e8202f',b:1,s:12});
[['Cue',744],['(black',753],['or',761.7],['white)',770.7]].forEach(l=>T(63.3,l[1],l[0]));
T(107,752.7,'Sst+, Sst44+');T(107,761.3,'cells');T(176,752.7,'Sst+, Sst44-');T(176,761.3,'cells');T(275,752.7,'Non-Sst');T(275,761.3,'cells');
T(388.7,740.3,'Lateral position');T(388.7,749.3,'(cm)');
T(457,730.7,'Stem');T(457,739.7,'position');T(457,749,'(cm)');
T(497.3,731.7,'Heading');T(497.3,740.7,'dev.');T(497.3,749.3,'(rad)');
T(536.3,731.7,'Turning');T(536.3,740.7,'accel.');T(536.3,749.3,'(rad/s²)');
[[353.7,'-9'],[423.7,'9'],[443.3,'0'],[465.7,'233'],[484.3,'-π'],[511,'π'],[523,'-5'],[552.3,'5']].forEach(l=>T(l[0],768.3,l[1]));
T(20,804,'Activity');T(18.3,865.7,'Time');T(18.3,875,'(s)');
T(557.3,770,'End of',{a:'l'});T(557.3,779,'trial',{a:'l'});T(557.3,787.7,'(reward)',{a:'l'});
T(555,836.7,'Peak of',{a:'l'});T(555,845.7,'Sst44 cell',{a:'l'});T(555,854.7,'activity',{a:'l'});
T(556,926.7,'Inter-trial',{a:'l'});T(556,935.7,'interval',{a:'l'});T(556,945,'(dark',{a:'l'});T(556,954,'screen)',{a:'l'});
T(416,833.3,'Heading');T(349,855.7,'Time');
T(626.7,744,'Time relative to Sst44 peak activity:',{a:'l',s:8.4});
T(642.7,763.3,'-2.0 s',{s:8.4});T(682.3,763.3,'-0.7s',{s:8.4});T(730,763.3,'+0.6',{s:8.4});
T(785,789.7,'Sst44 cell',{a:'r'});T(785,798.7,'activity',{a:'r'});
T(766,965,'Direction');T(766,974,'toward');T(766,983,'reward');
T(622.3,846,'y');T(647.7,877.7,'x');T(607,867,'Spatial',{r:1});T(616,867,'position',{r:1});
</script></body></html>
